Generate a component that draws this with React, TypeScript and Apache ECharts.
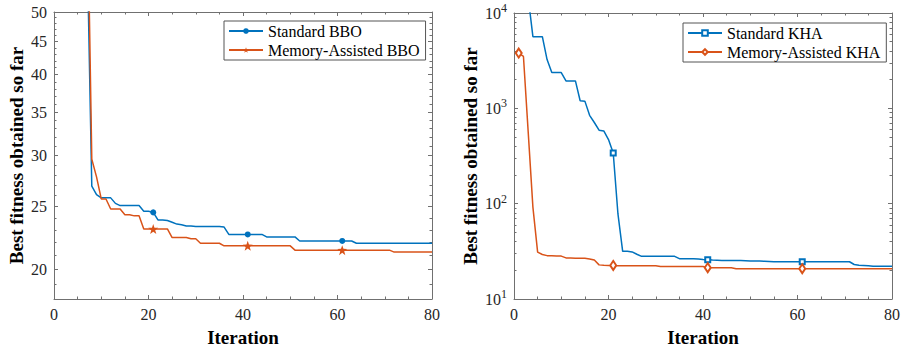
import React, { useEffect, useRef } from "react";
import * as echarts from "echarts";

// ---------- data ----------
const bboStandard = [
  150, 120, 100, 90, 80, 72, 64, 26.9, 26.1, 25.8,
  25.8, 25.8, 25.3, 25.1, 25.1, 25.1, 25.1, 25.1, 24.6, 24.6,
  24.5, 23.85, 23.85, 23.8, 23.65, 23.5, 23.45, 23.35, 23.35, 23.3,
  23.3, 23.3, 23.3, 23.3, 23.3, 23.25, 22.65, 22.65, 22.65, 22.65,
  22.65, 22.65, 22.65, 22.65, 22.45, 22.45, 22.45, 22.45, 22.45, 22.45,
  22.45, 22.13, 22.13, 22.13, 22.13, 22.13, 22.13, 22.13, 22.13, 22.13,
  22.13, 22.13, 22.13, 21.95, 21.95, 21.95, 21.95, 21.95, 21.95, 21.95,
  21.95, 21.95, 21.95, 21.95, 21.95, 21.95, 21.95, 21.95, 21.95, 21.95,
];
const bboMemory = [
  140, 125, 115, 105, 98, 90, 81, 29.6, 27.8, 25.7,
  25.7, 24.8, 24.8, 24.8, 24.3, 24.3, 24.2, 24.2, 23.1, 23.1,
  23.1, 23.1, 23.1, 23.1, 22.4, 22.4, 22.4, 22.4, 22.3, 22.3,
  21.95, 21.95, 21.95, 21.95, 21.95, 21.75, 21.75, 21.75, 21.75, 21.75,
  21.75, 21.75, 21.75, 21.75, 21.75, 21.75, 21.75, 21.75, 21.75, 21.75,
  21.42, 21.42, 21.42, 21.42, 21.42, 21.42, 21.42, 21.42, 21.42, 21.42,
  21.42, 21.42, 21.42, 21.42, 21.42, 21.42, 21.42, 21.42, 21.42, 21.42,
  21.42, 21.27, 21.27, 21.27, 21.27, 21.27, 21.27, 21.27, 21.27, 21.27,
];
const khaStandard = [
  30000, 20000, 14600, 5650, 5650, 5650, 3250, 2370, 2370, 2370,
  1940, 1940, 1940, 1200, 1190, 845, 710, 590, 580, 470,
  340, 78, 31.6, 31.6, 31.2, 29.5, 28, 28, 28, 28,
  28, 28, 28, 28, 26.5, 26.5, 26.5, 26.5, 26.3, 26,
  25.8, 25.6, 25.5, 25.4, 25.4, 25.4, 25.3, 25.3, 25.2, 25.1,
  25, 25, 24.9, 24.8, 24.6, 24.6, 24.6, 24.6, 24.6, 24.6,
  24.6, 24.6, 24.6, 24.6, 24.6, 24.6, 24.6, 24.6, 24.6, 24.6,
  24.6, 23.0, 22.6, 22.5, 22.3, 22.1, 22.1, 22.1, 22.1, 22.1,
];
const khaMemory = [
  3800, 3500, 570, 92, 31, 29.3, 28.5, 28.4, 28.3, 28.2,
  27, 26.9, 26.8, 26.8, 26.7, 26.3, 25.6, 22.8, 22.6, 22.5,
  22.5, 22.3, 22.3, 22.3, 22.3, 22.3, 22.3, 22.3, 22.3, 22.3,
  21.9, 21.9, 21.9, 21.9, 21.9, 21.9, 21.9, 21.9, 21.9, 21.9,
  21.3, 21.3, 21.3, 21.3, 21.3, 21.3, 20.8, 20.8, 20.8, 20.8,
  20.8, 20.8, 20.8, 20.8, 20.8, 20.8, 20.8, 20.8, 20.8, 20.8,
  20.8, 20.8, 20.8, 20.8, 20.8, 20.8, 20.8, 20.8, 20.8, 20.8,
  20.8, 20.8, 20.8, 20.8, 20.8, 20.8, 20.8, 20.8, 20.8, 20.8,
];

const bboMajorTicks = [20, 25, 30, 35, 40, 45, 50];
const bboMinorTicks = [
  18, 19, 21, 22, 23, 24, 26, 27, 28, 29, 31, 32, 33, 34, 36, 37, 38, 39,
  41, 42, 43, 44, 46, 47, 48, 49,
];
const khaMajorTicks = [10, 100, 1000, 10000];
const khaMinorTicks = [
  20, 30, 40, 50, 60, 70, 80, 90,
  200, 300, 400, 500, 600, 700, 800, 900,
  2000, 3000, 4000, 5000, 6000, 7000, 8000, 9000,
];
const bboRange = [18, 50];
const khaRange = [10, 10000];
const xRange = [0, 80];
const xLabelStep = 20;
const markerStep = 20;

const seriesNames = {
  bboStd: "Standard BBO",
  bboMem: "Memory-Assisted BBO",
  khaStd: "Standard KHA",
  khaMem: "Memory-Assisted KHA",
};

// ---------- style ----------
const FONT = "Liberation Serif";
const BLUE = "#0072BD";
const RED = "#D95319";
const AXIS = "#707070";
const LABEL = "#262626";
const STAR =
  "path://M0,-10 L2.35,-3.24 L9.51,-3.09 L3.8,1.24 L5.88,8.09 L0,4 L-5.88,8.09 L-3.8,1.24 L-9.51,-3.09 L-2.35,-3.24 Z";

const toPoints = (arr: number[]) =>
  arr.map((v, i) =>
    i % markerStep === 0 ? [i + 1, v] : { value: [i + 1, v], symbol: "none" }
  );

const tickLabelStyle = {
  fontFamily: FONT,
  fontSize: 16,
  color: LABEL,
};

function xAxes(gridIndex: number) {
  const base = {
    type: "value",
    gridIndex,
    min: xRange[0],
    max: xRange[1],
    interval: xLabelStep,
    axisLine: { show: true, lineStyle: { color: AXIS, width: 1 } },
    axisTick: { show: true, inside: true, length: 4, lineStyle: { color: AXIS } },
    minorTick: { show: true, splitNumber: 4, length: 2.5, lineStyle: { color: AXIS } },
    splitLine: { show: false },
    minorSplitLine: { show: false },
  };
  return [
    {
      ...base,
      position: "bottom",
      axisLabel: { ...tickLabelStyle, margin: 7 },
      name: "Iteration",
      nameLocation: "middle",
      nameGap: 29,
      nameTextStyle: { fontFamily: FONT, fontSize: 19, fontWeight: "bold", color: "#000" },
    },
    { ...base, position: "top", axisLabel: { show: false } },
  ];
}

function yAxes(
  gridIndex: number,
  range: number[],
  majors: number[],
  minors: number[],
  formatter: (v: number) => string,
  rich: any,
  nameGap: number
) {
  const lmin = Math.log10(range[0]);
  const lmax = Math.log10(range[1]);
  const majorVals = majors.map((v) => Math.log10(v));
  const minorVals = minors.map((v) => Math.log10(v));
  const tickAxis = (position: string, vals: number[], len: number, line: boolean) => ({
    type: "value",
    gridIndex,
    position,
    min: lmin,
    max: lmax,
    axisLine: { show: line, lineStyle: { color: AXIS, width: 1 } },
    axisTick: { show: true, inside: true, length: len, customValues: vals, lineStyle: { color: AXIS } },
    axisLabel: { show: false },
    splitLine: { show: false },
  });
  return [
    {
      type: "log",
      logBase: 10,
      gridIndex,
      min: range[0],
      max: range[1],
      axisLine: { show: false },
      axisTick: { show: false },
      axisLabel: { show: false },
      splitLine: { show: false },
    },
    {
      ...tickAxis("left", majorVals, 4, true),
      axisLabel: {
        show: true,
        customValues: majorVals,
        formatter,
        rich,
        ...tickLabelStyle,
        margin: 7,
      },
      name: "Best fitness obtained so far",
      nameLocation: "middle",
      nameGap,
      nameTextStyle: { fontFamily: FONT, fontSize: 19, fontWeight: "bold", color: "#000" },
    },
    tickAxis("left", minorVals, 2.5, false),
    tickAxis("right", majorVals, 4, true),
    tickAxis("right", minorVals, 2.5, false),
  ];
}

function legend(left: number, top: number, names: string[]) {
  return {
    data: names,
    orient: "vertical",
    left,
    top,
    padding: [2, 6, 2, 4],
    itemGap: 3,
    itemWidth: 34,
    itemHeight: 7,
    borderColor: "#555",
    borderWidth: 1,
    backgroundColor: "#fff",
    textStyle: { fontFamily: FONT, fontSize: 16, color: "#000" },
  };
}

export default function App() {
  const ref = useRef<HTMLDivElement>(null);
  useEffect(() => {
    if (!ref.current) return;
    const chart = echarts.init(ref.current, null, { renderer: "svg" });
    const line = (
      name: string,
      data: number[],
      color: string,
      xi: number,
      yi: number,
      symbol: string,
      symbolSize: any,
      borderWidth: number
    ) => ({
      type: "line",
      name,
      xAxisIndex: xi,
      yAxisIndex: yi,
      data: toPoints(data),
      symbol,
      symbolSize,
      showAllSymbol: true,
      clip: true,
      lineStyle: { color, width: 1.5 },
      itemStyle: { color, borderColor: color, borderWidth },
      emphasis: { disabled: true },
    });
    chart.setOption({
      animation: false,
      backgroundColor: "#fff",
      textStyle: { fontFamily: FONT },
      grid: [
        { left: 54, top: 12, width: 378, height: 290, containLabel: false },
        { left: 514, top: 13, width: 380, height: 290, containLabel: false },
      ],
      xAxis: [...xAxes(0), ...xAxes(1)],
      yAxis: [
        ...yAxes(
          0,
          bboRange,
          bboMajorTicks,
          bboMinorTicks,
          (v: number) => String(Math.round(Math.pow(10, v))),
          undefined,
          28
        ),
        ...yAxes(
          1,
          khaRange,
          khaMajorTicks,
          khaMinorTicks,
          (v: number) => "{b|10}{s|" + Math.round(v) + "}",
          {
            b: { fontFamily: FONT, fontSize: 16, lineHeight: 22, color: LABEL },
            s: { fontFamily: FONT, fontSize: 12, lineHeight: 10, verticalAlign: "top", color: LABEL },
          },
          34
        ),
      ],
      legend: [
        legend(224, 21, [seriesNames.bboStd, seriesNames.bboMem]),
        legend(683, 23, [seriesNames.khaStd, seriesNames.khaMem]),
      ],
      series: [
        line(seriesNames.bboStd, bboStandard, BLUE, 0, 0, "circle", 6, 0),
        line(seriesNames.bboMem, bboMemory, RED, 0, 0, STAR, 10, 0),
        line(seriesNames.khaStd, khaStandard, BLUE, 2, 5, "emptyRect", 5, 1.2),
        line(seriesNames.khaMem, khaMemory, RED, 2, 5, "emptyDiamond", [6, 9], 1.2),
      ],
    });
    return () => chart.dispose();
  }, []);
  return (
    <div
      ref={ref}
      style={{ position: "fixed", left: 0, top: 0, width: 903, height: 352, background: "#fff" }}
    />
  );
}
